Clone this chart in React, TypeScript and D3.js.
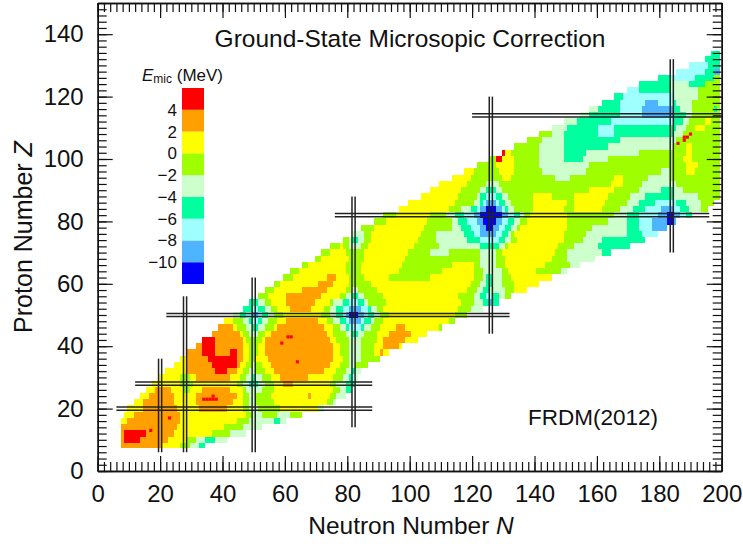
import { useEffect, useRef } from "react";
import * as d3 from "d3";

const W = 743;
const H = 544;
const font = "'Liberation Sans', Arial, sans-serif";

const colorSteps = [-10, -8, -6, -4, -2, 0, 2, 4];
const colorList = ["#0000ff", "#4fb4ff", "#9fffff", "#00ff9f", "#ccffcc", "#9fff00", "#ffff00", "#ff9f00", "#ff0000"];
const legendTicks = [-10, -8, -6, -4, -2, 0, 2, 4];
const axisMajor = [0, 20, 40, 60, 80, 100, 120, 140, 160, 180, 200];
const yMajor = [0, 20, 40, 60, 80, 100, 120, 140];

// magic numbers: number, from, to
const magicN = [[20, 6, 36], [28, 6, 56], [50, 6, 62], [82, 14, 88], [126, 44, 120], [184, 70, 132]];
const magicZ = [[20, 6, 88], [28, 12, 88], [50, 22, 132], [82, 76, 196], [114, 120, 200]];

// single nuclei over 4 MeV
const hotN = [17, 23, 61, 62, 59, 64, 34, 35, 36, 37, 38, 37, 186, 188, 189, 188, 190];
const hotZ = [13, 17, 43, 43, 41, 35, 23, 23, 23, 23, 23, 24, 105, 107, 107, 106, 108];

const zRows = d3.range(8, 136, 2);
// each row: first N, then pairs of E_mic (middle of band) and last N of the run
const rowRuns = [
  [8, 3,20, 1,26, -1,29, -3,32, -5,34],
  [8, 3,8, 5,13, 3,22, 1,28, -1,31, -3,34, -5,37, -3,41],
  [8, 3,8, 5,15, 3,24, 1,36, -1,42, -3,47],
  [8, 3,25, 1,40, -1,46, -3,52],
  [8, 1,9, 3,26, 1,44, -1,48, -3,56, -5,58, -3,60],
  [9, 1,11, 3,26, 1,47, -1,49, -3,52, -1,57, -3,61, -1,65],
  [10, 1,14, 3,25, 1,32, 3,41, 1,46, -1,48, -3,51, -1,58, 1,70, -3,72],
  [12, 1,14, 3,24, 1,31, 3,43, 1,46, -1,48, -3,50, -1,56, 1,73, -1,75, -3,76],
  [14, 1,16, 3,24, 1,31, 3,44, 1,46, -1,48, -3,50, -1,55, 1,67, 3,68, 1,74, -1,76, -3,79],
  [16, 1,18, 3,23, 1,27, -1,29, 1,33, 3,42, 1,46, -1,47, -3,52, -1,56, 1,75, -1,77, -3,79, -5,81],
  [18, 1,26, -1,30, 1,44, -1,46, -3,48, -5,51, -3,53, -1,56, 1,59, 3,62, 1,74, -1,76, -3,79, -5,82],
  [20, 1,26, -1,29, 1,31, 3,42, 1,45, -1,47, -3,49, -5,50, -3,52, -1,55, 1,58, 3,67, 1,75, -1,78, -3,80, -5,81, -7,82, -3,83],
  [22, 1,28, 3,37, 5,41, 3,44, 1,46, -1,48, -3,50, -1,53, 1,56, 3,72, 1,76, -1,79, -3,81, -5,82, -3,84],
  [25, 1,28, 3,36, 5,44, 3,45, 1,47, -1,49, -3,50, -1,52, 1,55, 3,74, 1,77, -1,80, -3,82, -1,86],
  [27, 1,28, 3,35, 5,44, 3,46, 1,48, -1,50, 1,54, 3,75, 1,78, -1,80, -3,84, -1,90],
  [29, 3,33, 5,37, 3,42, 5,44, 3,46, 1,48, -1,51, 1,53, 3,75, 1,77, -1,80, -3,84, -1,88, 1,90, 3,91, 1,93],
  [32, 3,33, 5,37, 3,46, 1,48, -1,51, 1,53, 3,75, 1,77, -1,80, -3,84, -1,88, 1,91, 3,96, 1,97],
  [34, 5,37, 3,46, 1,47, -1,52, 1,53, 3,74, 1,76, -1,80, -3,84, -1,89, 1,91, 3,98, 1,102],
  [37, 3,45, 1,46, -1,48, -3,51, -1,53, 1,55, 3,73, 1,75, -1,79, -3,81, -5,83, -3,85, -1,89, 1,93, 3,100, 1,105],
  [39, 3,43, 1,44, -1,47, -3,49, -5,51, -3,53, -1,56, 1,57, 3,72, 1,75, -1,77, -3,79, -5,80, -7,84, -5,85, -3,87, -1,90, 1,95, 3,98, 1,109, -1,110],
  [41, 1,43, -1,46, -3,48, -5,49, -7,51, -5,52, -3,54, -1,57, 1,60, 3,70, 1,73, -1,75, -3,77, -5,79, -7,80, -9,84, -7,85, -5,87, -3,88, -1,91, 1,112, -1,114],
  [44, -3,45, -5,47, -7,49, -9,51, -7,52, -5,54, -3,56, -1,59, 1,71, -1,74, -3,76, -5,78, -7,79, -9,80, -11,83, -9,85, -7,86, -5,88, -3,90, -1,93, 1,114, -1,118],
  [47, -5,49, -7,51, -5,53, -3,55, -1,57, 1,61, 3,68, 1,72, -1,74, -3,76, -5,78, -7,80, -9,84, -7,86, -5,87, -3,89, -1,91, 1,115, -1,119, -3,123],
  [49, -5,51, -3,53, -1,55, 1,60, 3,69, 1,74, -1,75, -3,78, -5,80, -7,83, -5,85, -3,86, -1,92, 1,116, -1,120, -3,123, -5,125, -9,126, -5,128],
  [52, -1,54, 1,60, 3,71, 1,77, -1,79, -3,81, -5,83, -3,85, -1,91, 1,115, -1,120, -3,122, -5,124, -7,126, -5,128, -3,130, -1,132],
  [54, -1,56, 1,65, 3,73, 1,79, -1,81, -3,83, -1,89, 1,118, -1,121, -3,123, -5,125, -3,130, -1,133, 1,137],
  [57, -1,58, 1,70, 3,75, 1,80, -1,87, 1,119, -1,122, -3,124, -5,126, -3,129, -1,133, 1,141],
  [60, -1,62, 1,73, 3,76, 1,80, -1,85, 1,93, -1,106, 1,120, -1,123, -3,124, -5,126, -3,129, -1,132, 1,145],
  [62, -1,64, 1,79, -1,84, 1,96, -1,110, 1,120, -1,123, -3,129, -1,131, 1,140, -1,148, -3,150],
  [66, -1,67, 1,79, -1,84, 1,97, -1,113, 1,120, -1,122, -3,127, -1,130, 1,143, -1,151, -3,154],
  [70, -1,71, 1,80, -1,85, 1,98, -1,122, -3,127, -1,130, 1,145, -1,150, -3,159],
  [72, -1,74, 1,79, -1,85, 1,99, -1,106, -3,112, -1,122, -3,127, -1,129, 1,146, -1,150, -3,161, -5,164],
  [75, -1,77, 1,78, -1,80, -3,84, -1,86, 1,101, -1,109, -3,122, -5,128, -3,130, -1,131, 1,147, -1,152, -3,160, -5,170],
  [79, -1,80, -3,81, -5,83, -3,85, -1,87, 1,102, -1,108, -3,118, -5,122, -7,128, -5,130, -3,132, -1,134, 1,149, -1,155, -3,161, -5,175],
  [82, -3,85, -1,87, 1,103, -1,108, -3,117, -5,120, -7,122, -9,127, -7,129, -5,131, -3,132, -1,133, 1,149, -1,156, -3,169, -5,174, -7,179],
  [85, -1,88, 1,104, -1,113, -3,116, -5,119, -7,122, -9,124, -11,126, -9,128, -7,130, -5,132, -3,134, -1,135, 1,150, -1,158, -3,169, -5,173, -7,177, -9,182],
  [89, -1,92, 1,105, -1,113, -3,115, -5,118, -7,121, -9,123, -11,127, -9,129, -7,131, -5,133, -3,135, -1,137, 1,150, -1,163, -3,169, -5,173, -7,177, -9,182, -11,184, -9,185],
  [92, -1,95, 1,106, -1,111, -3,114, -5,117, -7,120, -9,122, -11,129, -9,131, -7,133, -5,135, -3,136, -1,138, 1,150, -1,165, -3,169, -5,173, -7,179, -9,182, -11,184, -9,186, -7,188, -5,190],
  [97, 1,112, -1,116, -3,119, -5,121, -7,122, -9,124, -11,127, -9,129, -7,130, -5,131, -3,133, -1,139, 1,149, -1,152, 1,161, -1,167, -3,171, -5,175, -7,180, -9,184, -7,186, -5,189, -3,193, -1,195],
  [100, 1,114, -1,120, -3,122, -5,123, -7,124, -9,127, -7,128, -5,130, -3,132, -1,139, 1,150, -1,152, 1,162, -1,169, -3,173, -5,178, -7,185, -5,188, -3,193, -1,197],
  [104, 1,115, -1,121, -3,122, -5,124, -7,127, -5,129, -3,131, -1,139, 1,145, -1,152, 1,163, -1,170, -3,175, -5,184, -3,192, -1,199],
  [107, 1,116, -1,122, -3,124, -5,127, -3,129, -1,157, 1,165, -1,173, -3,180, -5,184, -3,187, -1,199],
  [110, 1,118, -1,124, -3,128, -1,164, 1,168, -1,174, -3,185, -1,199],
  [114, 1,119, -1,129, 1,132, -1,146, -3,151, -1,165, 1,168, -1,176, -3,183, -1,199],
  [118, 1,120, -1,128, 1,133, -1,142, -3,156, -1,180, -3,183, -1,188, 1,191, -1,199],
  [122, -1,127, 1,133, -1,141, -3,157, -1,188, 1,192, -1,199],
  [126, -1,127, 5,129, 1,133, -1,141, -3,149, -5,155, -3,163, -1,187, 1,190, -1,199],
  [130, 5,130, 1,132, -1,141, -3,149, -5,156, -3,173, -1,188, 1,190, -1,199],
  [134, -1,141, -3,149, -5,163, -3,184, -1,188, 1,190, -1,199],
  [138, -1,142, -3,149, -5,167, -3,185, -1,199],
  [142, -1,145, -3,149, -5,160, -7,165, -5,184, -3,187, -1,199],
  [146, -3,150, -5,160, -7,165, -5,185, -3,188, -1,191, 1,194, -1,199],
  [150, -3,153, -5,164, -7,184, -5,187, -3,189, -1,194, 1,196, -1,199],
  [155, -3,157, -5,167, -7,174, -9,184, -5,188, -3,190, -1,199],
  [158, -3,160, -5,167, -7,174, -9,184, -5,186, -3,190, -1,197, -5,198, -1,199],
  [162, -5,167, -7,175, -9,179, -7,184, -5,185, -3,190, -1,199],
  [166, -5,168, -7,184, -3,192, -1,199],
  [170, -7,173, -5,183, -3,192, -1,199],
  [174, -5,183, -3,189, -5,194, -1,199],
  [180, -5,183, -7,191, -5,197, -1,199],
  [186, -7,194, -5,197, -9,199],
  [190, -7,195, -5,199],
  [195, -5,199],
  [197, -5,199],
];

const App = () => {
  const svgRef = useRef<SVGSVGElement>(null);

  useEffect(() => {
    const svg = d3.select(svgRef.current);
    svg.selectAll("*").remove();

    const x = d3.scaleLinear().domain([0, 200]).range([97.7, 721.7]);
    const y = d3.scaleLinear().domain([0, 150]).range([471, 3]);
    const color = d3.scaleThreshold<number, string>().domain(colorSteps).range(colorList);

    const cells: { n0: number; n1: number; z: number; v: number }[] = [];
    rowRuns.forEach((row, i) => {
      let from = row[0];
      for (let k = 1; k < row.length; k += 2) {
        cells.push({ n0: from, n1: row[k + 1], z: zRows[i], v: row[k] });
        from = row[k + 1] + 1;
      }
    });

    svg.append("g").selectAll("rect").data(cells).join("rect")
      .attr("x", (d) => x(d.n0 - 0.5))
      .attr("width", (d) => x(d.n1 + 0.5) - x(d.n0 - 0.5))
      .attr("y", (d) => y(Math.min(d.z + 1, 134.5)))
      .attr("height", (d) => y(Math.max(d.z - 1, 7.5)) - y(Math.min(d.z + 1, 134.5)))
      .attr("fill", (d) => color(d.v))
      .attr("shape-rendering", "crispEdges");

    svg.append("g").selectAll("rect").data(hotN).join("rect")
      .attr("x", (d) => x(d - 0.5))
      .attr("y", (d, i) => y(hotZ[i] + 0.5))
      .attr("width", x(1) - x(0))
      .attr("height", y(0) - y(1))
      .attr("fill", color(5));

    // double lines at the magic numbers
    const lines = svg.append("g").attr("stroke", "#222").attr("stroke-width", 1.5);
    magicN.forEach(([n, a, b]) => {
      [-0.5, 0.5].forEach((o) => {
        lines.append("line").attr("x1", x(n + o)).attr("x2", x(n + o)).attr("y1", y(a)).attr("y2", y(b));
      });
    });
    magicZ.forEach(([z, a, b]) => {
      [-0.5, 0.5].forEach((o) => {
        lines.append("line").attr("y1", y(z + o)).attr("y2", y(z + o)).attr("x1", x(a)).attr("x2", x(b));
      });
    });

    // axes, ticks point inwards on all four sides
    const minorX = d3.range(0, 201, 2);
    const minorY = d3.range(0, 151, 2);
    const axes: [any, string, any, any, any][] = [
      [d3.axisBottom(x), `translate(0,${y(0)})`, minorX, axisMajor, true],
      [d3.axisTop(x), `translate(0,${y(150)})`, minorX, axisMajor, false],
      [d3.axisLeft(y), `translate(${x(0)},0)`, minorY, yMajor, true],
      [d3.axisRight(y), `translate(${x(200)},0)`, minorY, yMajor, false],
    ];
    axes.forEach(([axis, tr, minor, major, labels]) => {
      const g1 = svg.append("g").attr("transform", tr).call(
        axis.tickValues(minor).tickSize(-9).tickSizeOuter(0).tickFormat(() => "")
      );
      const g2 = svg.append("g").attr("transform", tr).call(
        axis.tickValues(major).tickSize(-15).tickSizeOuter(0).tickPadding(14)
          .tickFormat((d: number) => (labels ? String(d) : ""))
      );
      [g1, g2].forEach((g) => {
        g.selectAll("line").attr("stroke", "#111").attr("stroke-width", 1.2);
        g.selectAll("path").attr("stroke", "#111").attr("stroke-width", 1.4);
        g.selectAll("text").attr("font-family", font).attr("font-size", 24).attr("fill", "#111");
      });
    });

    const text = (s: string, px: number, py: number, size: number, anchor = "middle") =>
      svg.append("text").attr("x", px).attr("y", py).attr("font-family", font)
        .attr("font-size", size).attr("text-anchor", anchor).attr("fill", "#111").text(s);

    text("Ground-State Microsopic Correction", 410, 47, 24.5);
    text("FRDM(2012)", 593, 425, 22.5);

    const xTitle = text("Neutron Number ", 411, 534, 24.5);
    xTitle.append("tspan").attr("font-style", "italic").text("N");
    const yTitle = text("Proton Number ", 0, 0, 25)
      .attr("transform", `translate(32,237) rotate(-90)`);
    yTitle.append("tspan").attr("font-style", "italic").text("Z");

    // colour key
    const legend = d3.scaleLinear().domain([-12, 6]).range([284, 88]);
    svg.append("g").selectAll("rect").data(d3.range(-11, 6, 2)).join("rect")
      .attr("x", 182)
      .attr("width", 22)
      .attr("y", (d) => legend(d + 1))
      .attr("height", (d) => legend(d - 1) - legend(d + 1))
      .attr("fill", (d) => color(d));
    const key = svg.append("g").attr("transform", "translate(182,0)")
      .call(d3.axisLeft(legend).tickValues(legendTicks).tickSize(0).tickPadding(5));
    key.select("path").remove();
    key.selectAll("text").attr("font-family", font).attr("font-size", 17).attr("fill", "#111");

    const keyTitle = text("", 142, 81, 17, "start");
    keyTitle.append("tspan").attr("font-style", "italic").text("E");
    keyTitle.append("tspan").attr("font-size", 12).attr("dy", 2).text("mic");
    keyTitle.append("tspan").attr("dy", -2).text(" (MeV)");
  }, []);

  return (
    <svg ref={svgRef} width={W} height={H}
      style={{ position: "absolute", left: 0, top: 0, background: "#fff" }} />
  );
};

export default App;
